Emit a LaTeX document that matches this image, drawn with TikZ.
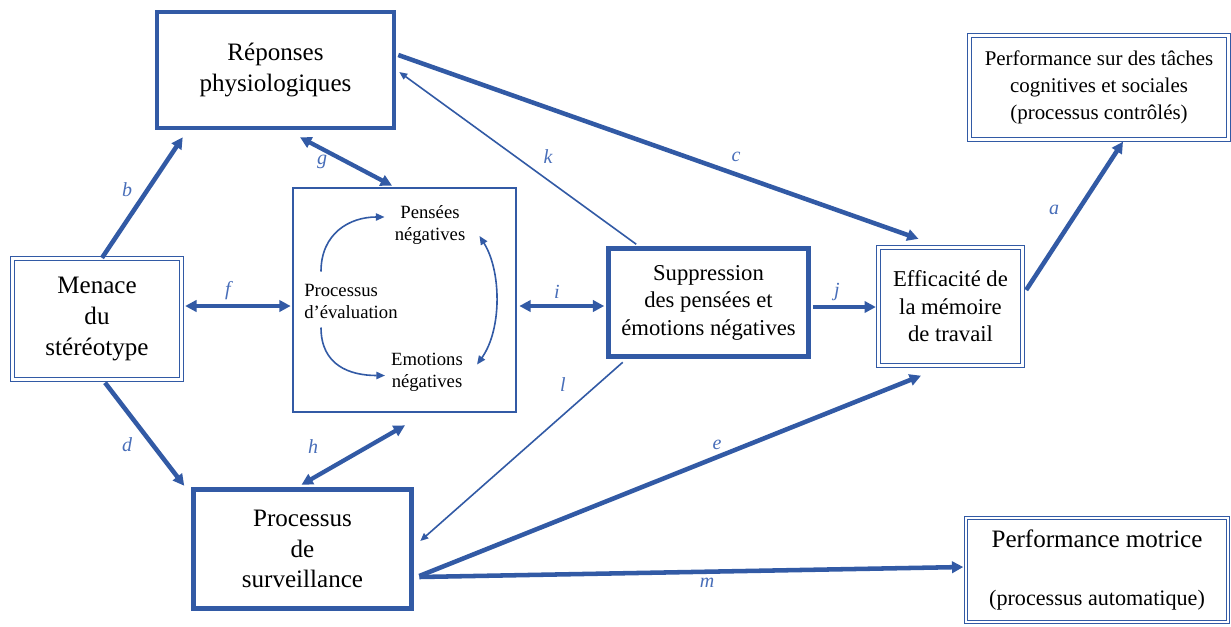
\documentclass[tikz,border=0pt]{standalone}
\usepackage{fontspec}
\setmainfont{Liberation Serif}
\usetikzlibrary{arrows.meta,calc}
\definecolor{lineblue}{RGB}{50,90,165}
\definecolor{labblue}{RGB}{72,110,185}
\begin{document}
\begin{tikzpicture}[x=0.75pt,y=-0.75pt,
  thickbox/.style={draw=lineblue, line width=3.4pt, fill=white, inner sep=0pt, align=center},
  dblbox/.style={draw=lineblue, line width=1pt, double=white, double distance=1.6pt, inner sep=0pt, align=center},
  thinbox/.style={draw=lineblue, line width=2pt, inner sep=0pt},
  bigtxt/.style={font=\fontsize{18.8}{23}\selectfont},
  midtxt/.style={font=\fontsize{17}{20.6}\selectfont},
  ptctxt/.style={font=\fontsize{15.7}{20.2}\selectfont},
  smalltxt/.style={font=\fontsize{14}{16.3}\selectfont, inner sep=0pt},
  lab/.style={text=labblue, inner sep=0pt, font=\fontsize{15}{16}\selectfont\itshape},
  thk/.style={draw=lineblue, line width=3.4pt, -{Triangle[length=8.5pt,width=8.5pt]}},
  thkboth/.style={draw=lineblue, line width=3.2pt, {Triangle[length=8.5pt,width=8.5pt]}-{Triangle[length=8.5pt,width=8.5pt]}},
  thn/.style={draw=lineblue, line width=1.2pt, -{Triangle[length=6pt,width=5pt]}},
  crv/.style={draw=lineblue, line width=1.2pt, -{Triangle[length=6.5pt,width=5.5pt]}},
  crvboth/.style={draw=lineblue, line width=1.2pt, {Triangle[length=6.5pt,width=5.5pt]}-{Triangle[length=6.5pt,width=5.5pt]}}
]
\path[use as bounding box, fill=white] (0,0) rectangle (1231,626);

% boxes
\node[thickbox, bigtxt, minimum width=177.75pt, minimum height=87pt] (rep) at (275.5,70) {Réponses\\physiologiques};
\node[dblbox, bigtxt, minimum width=126.75pt, minimum height=90.75pt] (men) at (97,319) {Menace\\du\\stéréotype};
\node[thinbox, minimum width=167.25pt, minimum height=168pt] (ev) at (404.5,300) {};
\node[thickbox, midtxt, minimum width=150pt, minimum height=81pt] (sup) at (708.5,302.5) {Suppression\\des pensées et\\émotions négatives};
\node[dblbox, midtxt, minimum width=108pt, minimum height=88.5pt] (eff) at (950.5,306.5) {Efficacité de\\la mémoire\\de travail};
\node[dblbox, ptctxt, minimum width=194.25pt, minimum height=78pt] (ptc) at (1099,87.5) {Performance sur des tâches\\cognitives et sociales\\(processus contrôlés)};
\node[thickbox, bigtxt, minimum width=163.5pt, minimum height=89.25pt] (sur) at (302.5,549) {Processus\\de\\surveillance};
\node[dblbox, bigtxt, minimum width=196.5pt, minimum height=78pt] (pmo) at (1097,570) {Performance motrice\\[21pt]{\fontsize{16.6}{20}\selectfont(processus automatique)}};

% inner texts of evaluation box
\node[smalltxt, align=center] (pn) at (430,225) {Pensées\\négatives};
\node[smalltxt, align=center] (en) at (427,372.5) {Emotions\\négatives};
\node[smalltxt, align=left, anchor=west] (pe) at (304,301.5) {Processus\\d’évaluation};

\coordinate (cs1) at ($(pe.west)+(17,-30)$);
\coordinate (cs2) at ($(pe.west)+(17,26)$);
\draw[crv] (cs1) .. controls +(0,-38) and +(-35,0) .. ($(pn.west)+(-10,-8)$);
\draw[crv] (cs2) .. controls +(0,38) and +(-35,0) .. ($(en.west)+(-6,3)$);
\draw[crvboth] ($(pn.east)+(14,11)$) .. controls +(22,35) and +(25,-35) .. ($(en.east)+(14,-8)$);

% connectors
\draw[thk] ($(men.north)+(5,0)$) -- ($(rep.south west)+(28,7)$);
\draw[thkboth] ($(rep.south)+(24.5,7)$) -- ($(ev.north)+(-12.5,-1)$);
\draw[thn] ($(sup.north west)+(30,-2)$) -- ($(rep.east)+(3,2)$);
\draw[thk] ($(rep.east)+(2,-15)$) -- ($(eff.north)+(-32,-8)$);
\draw[thkboth] ($(men.east)+(3,-13)$) -- ($(ev.west)+(-1,6)$);
\draw[thkboth] ($(ev.east)+(2,6)$) -- ($(sup.west)+(-2,3.5)$);
\draw[thk] ($(sup.east)+(2,4.5)$) -- ($(eff.west)+(-2,0.5)$);
\draw[thk] ($(eff.east)+(3,-16.5)$) -- ($(ptc.south)+(24,1.5)$);
\draw[thk] ($(men.south)+(8,2.5)$) -- ($(sur.north west)+(-7,-1.5)$);
\draw[thkboth] ($(sur.north)+(-1,-2.5)$) -- ($(ev.south)+(0.5,12)$);
\draw[thn] ($(sup.south west)+(16.5,3.5)$) -- ($(sur.east)+(6.5,-8)$);
\draw[thk] ($(sur.east)+(5.5,27)$) -- ($(eff.south)+(-29.5,9.5)$);
\draw[thk] ($(sur.east)+(5.5,28)$) -- ($(pmo.west)+(-2,-3)$);

% labels
\node[lab] (la) at (1054,210) {a};
\node[lab] (lb) at (127,190) {b};
\node[lab] (lc) at (736,157) {c};
\node[lab] (ld) at (127,445) {d};
\node[lab] (le) at (717,445) {e};
\node[lab] (lf) at (228,291) {f};
\node[lab] (lg) at (322,162) {g};
\node[lab] (lh) at (313,447) {h};
\node[lab] (li) at (557,292) {i};
\node[lab] (lj) at (837,292) {j};
\node[lab] (lk) at (548,157) {k};
\node[lab] (ll) at (563,385) {l};
\node[lab] (lm) at (707,583) {m};
\end{tikzpicture}
\end{document}
